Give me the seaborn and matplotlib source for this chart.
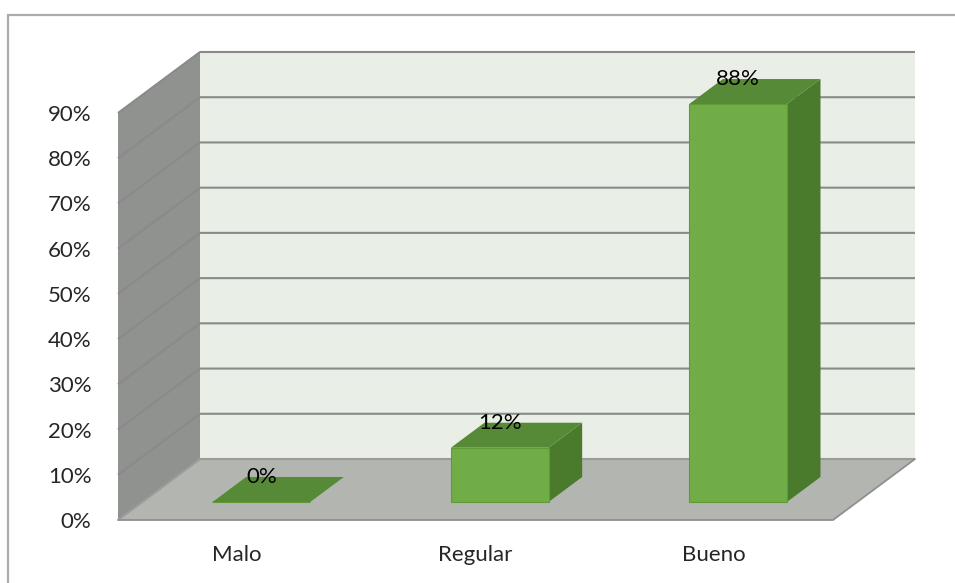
import matplotlib
matplotlib.use("Agg")
import matplotlib.pyplot as plt
from matplotlib.patches import Polygon, Rectangle
from matplotlib.transforms import ScaledTranslation, IdentityTransform
import numpy as np
import pandas as pd
import seaborn as sns

# Survey result shares
categories = ["Malo", "Regular", "Bueno"]
values = [0.0, 0.12, 0.88]
value_labels = ["0%", "12%", "88%"]
y_ticks = [0.0, 0.1, 0.2, 0.3, 0.4, 0.5, 0.6, 0.7, 0.8, 0.9]
y_tick_labels = ["0%", "10%", "20%", "30%", "40%", "50%", "60%", "70%", "80%", "90%"]

sns.set_style("white")
plt.rcParams["font.family"] = ["Lato", "DejaVu Sans"]

W, H = 955, 583
DPI = 100
FS = 16
fig = plt.figure(figsize=(W / DPI, H / DPI), dpi=DPI)
fig.patch.set_facecolor("white")

# chart frame
fig.patches.append(Rectangle((8 / W, -0.05), 1.1, (H - 15) / H + 0.05,
                             transform=fig.transFigure, fill=False,
                             edgecolor="#ababab", linewidth=1.6))

# front plane of the oblique 3D box (pixel layout)
left, right, bottom, top = 118, 833, 520, 113
ax = fig.add_axes([left / W, (H - bottom) / H, (right - left) / W, (bottom - top) / H])
ax.set_xlim(-0.5, 2.5)
ax.set_ylim(0, 0.9)
ax.patch.set_visible(False)

# depth vector of the box (pixels, display coords)
DEPTH = np.array([82.0, 61.0])
BAR_FRONT = 0.295
BAR_DEPTH = 0.41

df = pd.DataFrame({"categoria": categories, "valor": values})
sns.barplot(data=df, x="categoria", y="valor", ax=ax, color="#70ad47",
            saturation=1, width=0.41, edgecolor="#5f9a3b", linewidth=0.8,
            zorder=5)
ax.set_xlim(-0.5, 2.5)
ax.set_ylim(0, 0.9)


def px(x, v, d):
    p = ax.transData.transform((x, v))
    return p + d * DEPTH


def poly(pts, fc, z, ec="none", lw=0):
    pg = Polygon(np.array(pts), closed=True, facecolor=fc, edgecolor=ec,
                 linewidth=lw, transform=IdentityTransform(), zorder=z,
                 clip_on=False)
    ax.add_patch(pg)


x0, x1, vmax = -0.5, 2.5, 0.9
# walls and floor
poly([px(x0, 0, 1), px(x1, 0, 1), px(x1, vmax, 1), px(x0, vmax, 1)], "#e9eee6", 0)
poly([px(x0, 0, 0), px(x0, vmax, 0), px(x0, vmax, 1), px(x0, 0, 1)], "#8f928e", 0)
poly([px(x0, 0, 0), px(x1, 0, 0), px(x1, 0, 1), px(x0, 0, 1)], "#b3b6b0", 0)

# gridlines running along the left wall and across the back wall
for v in y_ticks:
    pts = np.array([px(x0, v, 0), px(x0, v, 1), px(x1, v, 1)])
    color = "#8a8a8a" if v > 0 else "#9a9c98"
    ax.plot(pts[:, 0], pts[:, 1], color=color, lw=1.5, transform=IdentityTransform(),
            zorder=1, clip_on=False, solid_capstyle="butt")

# floor outline
fl = np.array([px(x0, 0, 0), px(x1, 0, 0), px(x1, 0, 1)])
ax.plot(fl[:, 0], fl[:, 1], color="#8f8f8f", lw=1.3, transform=IdentityTransform(),
        zorder=1, clip_on=False)

# move the bar fronts into the box and add their top and side faces
shift = ScaledTranslation(BAR_FRONT * DEPTH[0] / DPI, BAR_FRONT * DEPTH[1] / DPI,
                          fig.dpi_scale_trans)
d0, d1 = BAR_FRONT, BAR_FRONT + BAR_DEPTH
for p, lab in zip(ax.patches[:len(values)], value_labels):
    bx0 = p.get_x()
    bx1 = bx0 + p.get_width()
    h = p.get_height()
    p.set_transform(ax.transData + shift)
    p.set_clip_on(False)
    # right side face
    poly([px(bx1, 0, d0), px(bx1, h, d0), px(bx1, h, d1), px(bx1, 0, d1)],
         "#4a7a2c", 4)
    # top face
    poly([px(bx0, h, d0), px(bx1, h, d0), px(bx1, h, d1), px(bx0, h, d1)],
         "#568a36", 4)
    cx = (bx0 + bx1) / 2
    tx = px(cx, h, d0)[0]
    ty = px(cx, h, d1)[1]
    ax.text(tx, ty, lab, transform=IdentityTransform(), ha="center", va="center",
            fontsize=FS, color="black", zorder=10)

# axes styling
for s in ["top", "right", "left", "bottom"]:
    ax.spines[s].set_visible(False)
ax.set_yticks(y_ticks)
ax.set_yticklabels(y_tick_labels)
ax.tick_params(axis="y", length=7, width=1.2, color="#8a8a8a", pad=12,
               labelsize=FS, direction="out")
ax.set_xticks([0, 1, 2])
ax.set_xticklabels(categories)
ax.set_xticks([-0.5, 0.5, 1.5, 2.5], minor=True)
ax.tick_params(axis="x", which="major", length=0, pad=18, labelsize=FS)
ax.tick_params(axis="x", which="minor", length=7, width=1.2, color="#8a8a8a",
               direction="out")
ax.set_xlabel("")
ax.set_ylabel("")

fig.savefig("out.png", dpi=DPI, facecolor="white")
